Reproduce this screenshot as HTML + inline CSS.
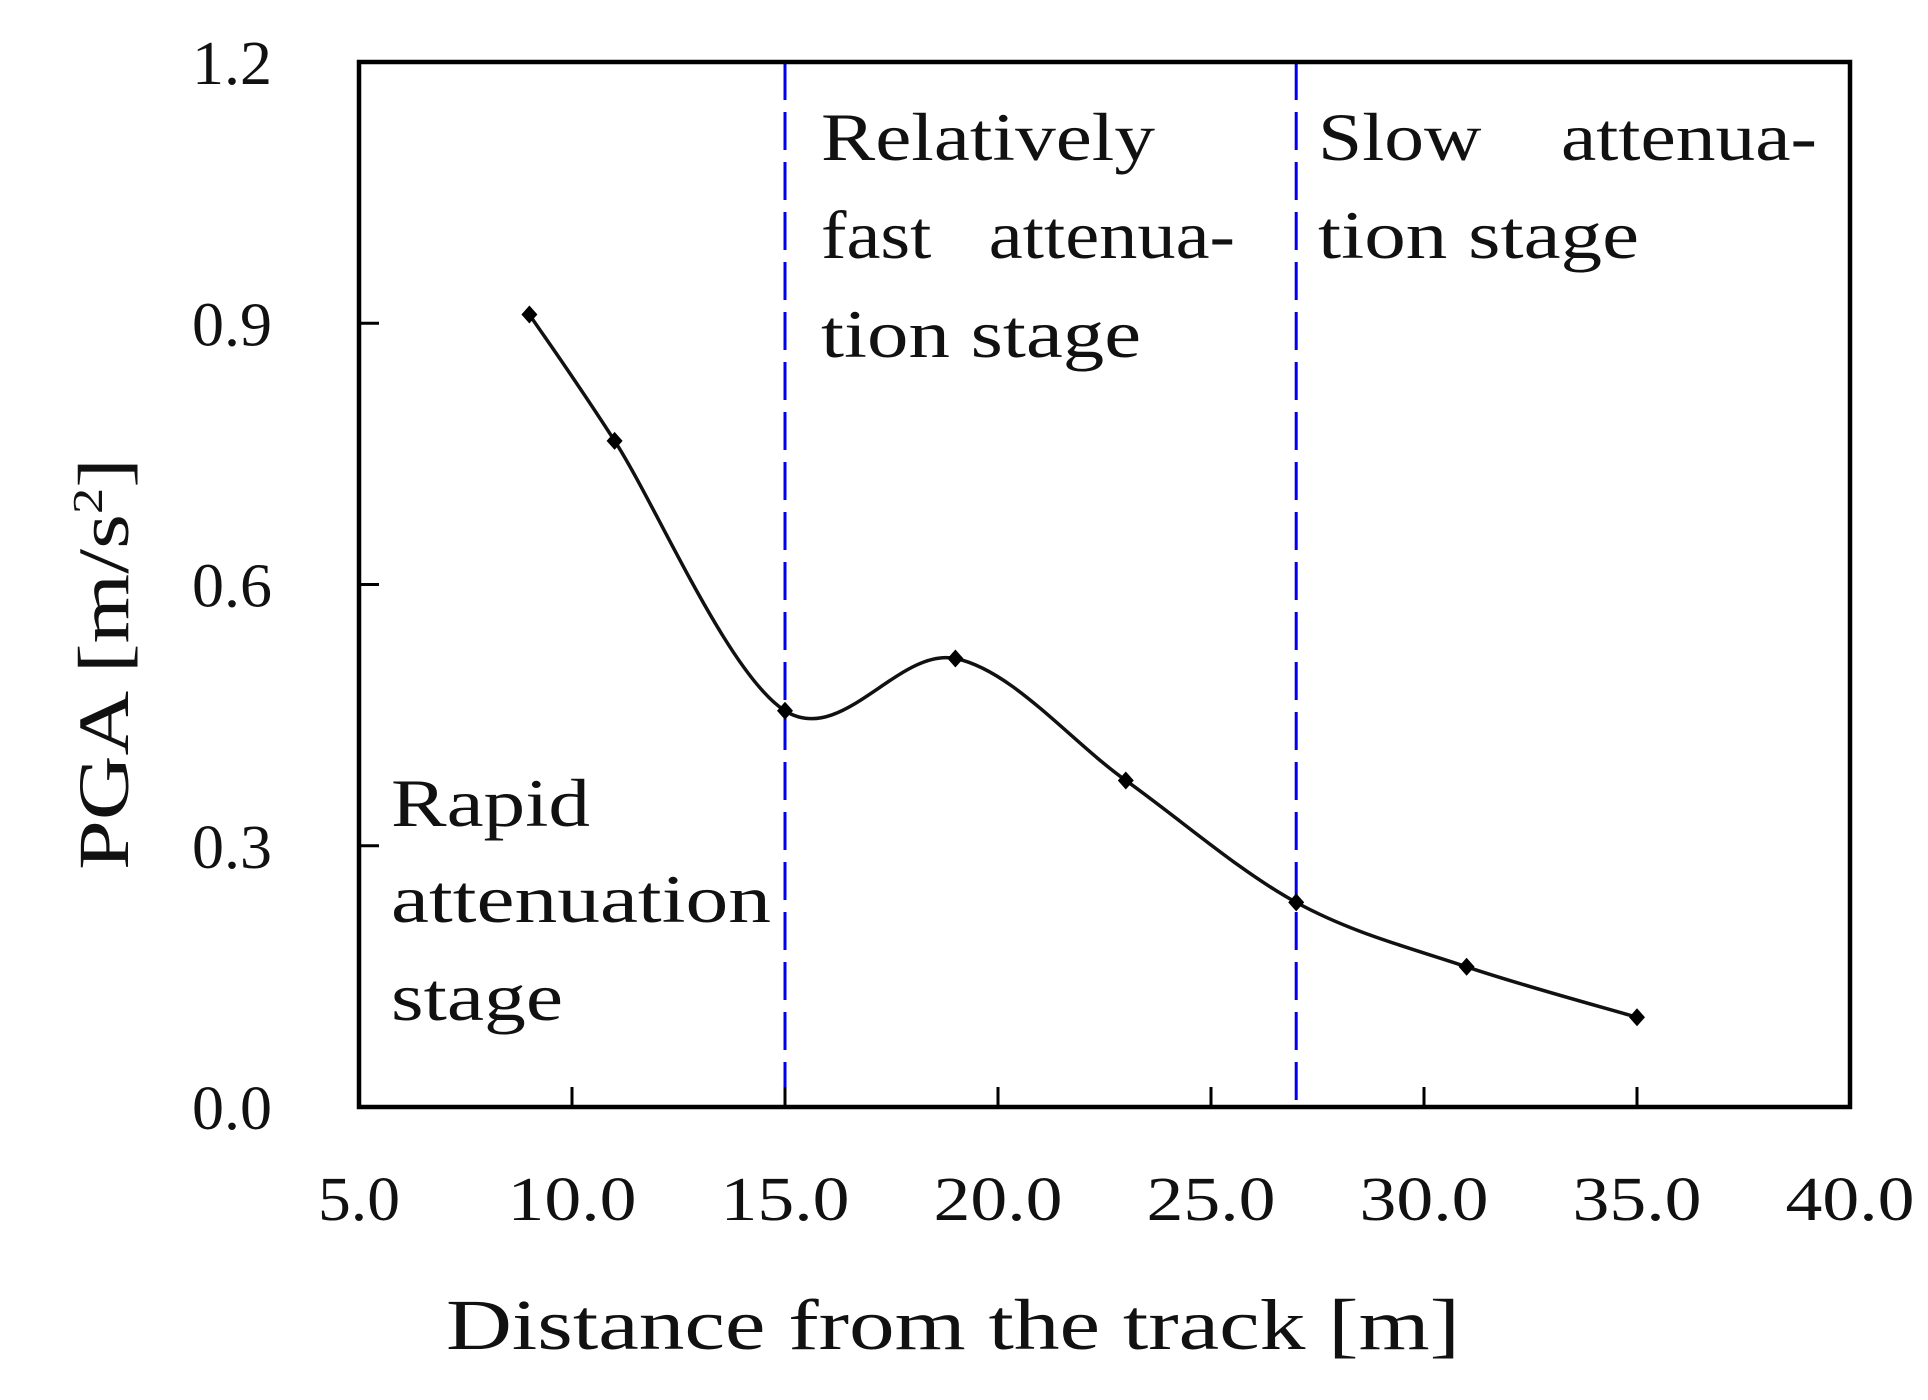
<!DOCTYPE html>
<html><head><meta charset="utf-8"><style>
html,body{margin:0;padding:0;background:#fff;}
svg{display:block;}
text{font-family:"Liberation Serif",serif;fill:#111;}
</style></head><body>
<svg id="chart" width="1928" height="1400" viewBox="0 0 1928 1400">
<g id="marks"></g>
<rect x="359" y="62" width="1491" height="1045" fill="none" stroke="#000" stroke-width="4.5"/>
<g id="ticks"></g>
<text x="953" y="1349" font-size="72" text-anchor="middle" textLength="1014" lengthAdjust="spacingAndGlyphs">Distance from the track  [m]</text>
<text transform="translate(128,664) rotate(-90)" font-size="72" text-anchor="middle" textLength="412" lengthAdjust="spacingAndGlyphs">PGA [m/s<tspan font-size="42" dy="-26">2</tspan><tspan dy="26">]</tspan></text>
<g font-size="68">
<text x="391" y="826" textLength="199" lengthAdjust="spacingAndGlyphs">Rapid</text>
<text x="391" y="922" textLength="380" lengthAdjust="spacingAndGlyphs">attenuation</text>
<text x="391" y="1020" textLength="172" lengthAdjust="spacingAndGlyphs">stage</text>
<text x="821" y="160" textLength="334" lengthAdjust="spacingAndGlyphs">Relatively</text>
<text x="821" y="258" textLength="414" lengthAdjust="spacingAndGlyphs" xml:space="preserve">fast   attenua-</text>
<text x="821" y="357" textLength="320" lengthAdjust="spacingAndGlyphs">tion stage</text>
<text x="1318" y="160" textLength="499" lengthAdjust="spacingAndGlyphs" xml:space="preserve">Slow    attenua-</text>
<text x="1318" y="258" textLength="321" lengthAdjust="spacingAndGlyphs">tion stage</text>
</g>
</svg>
<script>
const xValues = [9, 11, 15, 19, 23, 27, 31, 35];
const pgaValues = [0.91, 0.765, 0.455, 0.515, 0.375, 0.235, 0.161, 0.103];
const xTicks = [5, 10, 15, 20, 25, 30, 35, 40];
const xTickLabels = ["5.0","10.0","15.0","20.0","25.0","30.0","35.0","40.0"];
const yTicks = [0, 0.3, 0.6, 0.9, 1.2];
const yTickLabels = ["0.0","0.3","0.6","0.9","1.2"];
const stageBoundaries = [15, 27];

const NS = "http://www.w3.org/2000/svg";
const X0 = 359, X1 = 1850, Y0 = 1107, Y1 = 62;
function sx(v){ return X0 + (v - 5) / 35 * (X1 - X0); }
function sy(v){ return Y0 - v / 1.2 * (Y0 - Y1); }
function mk(tag, attrs, parent){ const e = document.createElementNS(NS, tag); for (const k in attrs) e.setAttribute(k, attrs[k]); parent.appendChild(e); return e; }
const marks = document.getElementById("marks");
const ticks = document.getElementById("ticks");

stageBoundaries.forEach(function(b){
  const l = mk("line", {x1: sx(b), x2: sx(b), y1: Y1, y2: Y0, stroke: "#0000ee", "stroke-width": 3, "stroke-dasharray": "38 12"}, marks);
  
  
});

const pts = xValues.map(function(x, i){ return [sx(x), sy(pgaValues[i])]; });
let d = "M" + pts[0][0] + "," + pts[0][1];
for (let i = 0; i < pts.length - 1; i++) {
  const p0 = pts[Math.max(0, i - 1)], p1 = pts[i], p2 = pts[i + 1], p3 = pts[Math.min(pts.length - 1, i + 2)];
  const c1x = p1[0] + (p2[0] - p0[0]) / 6, c1y = p1[1] + (p2[1] - p0[1]) / 6;
  const c2x = p2[0] - (p3[0] - p1[0]) / 6, c2y = p2[1] - (p3[1] - p1[1]) / 6;
  d += " C" + c1x + "," + c1y + " " + c2x + "," + c2y + " " + p2[0] + "," + p2[1];
}
const curve = mk("path", {d: d, fill: "none", stroke: "#111", "stroke-width": 3.5}, marks);



pts.forEach(function(p){
  const m = mk("path", {d: "M" + p[0] + "," + (p[1] - 9) + " L" + (p[0] + 8) + "," + p[1] + " L" + p[0] + "," + (p[1] + 9) + " L" + (p[0] - 8) + "," + p[1] + "Z", fill: "#000"}, marks);
  
  
});

xTicks.forEach(function(t, i){
  if (t > 5 && t < 40) {
    const tk = mk("line", {x1: sx(t), x2: sx(t), y1: Y0, y2: Y0 - 20, stroke: "#000", "stroke-width": 3}, ticks);
    
    
  }
  const lb = mk("text", {x: sx(t), y: 1220, "font-size": 62, "text-anchor": "middle", textLength: xTickLabels[i].length > 3 ? 129 : 82, lengthAdjust: "spacingAndGlyphs"}, ticks);
  lb.textContent = xTickLabels[i];
  
  
});
yTicks.forEach(function(t, i){
  if (t > 0 && t < 1.2) {
    const tk = mk("line", {x1: X0, x2: X0 + 20, y1: sy(t), y2: sy(t), stroke: "#000", "stroke-width": 3}, ticks);
    
    
  }
  const lb = mk("text", {x: 272, y: sy(t) + 22, "font-size": 62, "text-anchor": "end", textLength: 80, lengthAdjust: "spacingAndGlyphs"}, ticks);
  lb.textContent = yTickLabels[i];
  
  
});
</script>
</body></html>
